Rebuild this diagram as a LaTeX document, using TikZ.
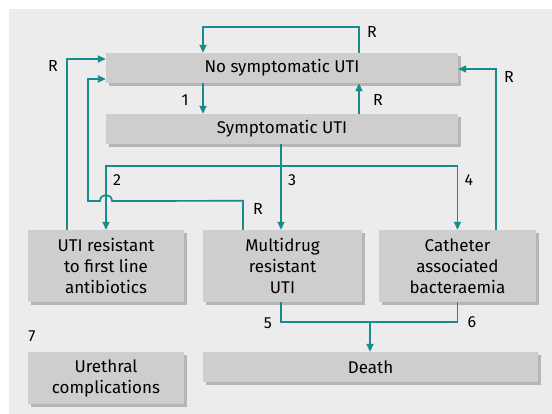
\documentclass[tikz,border=0pt]{standalone}
\usepackage{fontspec}
\setmainfont{Fira Sans}
\usetikzlibrary{arrows.meta,shadows}
\definecolor{teal}{RGB}{24,140,140}
\definecolor{bgc}{RGB}{236,236,236}
\definecolor{boxc}{RGB}{206,206,206}
\definecolor{shadc}{RGB}{182,182,182}
\tikzset{
  box/.style={fill=boxc, inner sep=0pt, align=center, font=\fontsize{17}{21}\selectfont,
    drop shadow={shadow xshift=3pt, shadow yshift=-3pt, fill=shadc, opacity=1}},
  arr/.style={draw=teal, line width=1.7pt, -{Triangle[length=8pt,width=7pt]}},
  ln/.style={draw=teal, line width=1.7pt},
  lab/.style={font=\fontsize{16}{18}\selectfont, inner sep=0pt}
}
\begin{document}
\begin{tikzpicture}[x=1pt,y=-1pt]
\useasboundingbox (0,0) rectangle (552,414);
\fill[white] (0,0) rectangle (552,414);
\fill[bgc] (9,9) rectangle (552,414);
% boxes
\node[box, minimum width=352pt, minimum height=30pt] (nosym) at (282,68) {No symptomatic UTI};
\node[box, minimum width=352pt, minimum height=30pt] (sym) at (282,129) {Symptomatic UTI};
\node[box, minimum width=156pt, minimum height=72pt] (res) at (106,266) {UTI resistant\\to first line\\antibiotics};
\node[box, minimum width=159pt, minimum height=72pt] (multi) at (282.5,266) {Multidrug\\resistant\\UTI};
\node[box, minimum width=157pt, minimum height=72pt] (cath) at (457.5,266) {Catheter\\associated\\bacteraemia};
\node[box, minimum width=156pt, minimum height=52pt] (ureth) at (106,378) {Urethral\\complications};
\node[box, minimum width=335pt, minimum height=30pt] (death) at (370.5,367) {Death};
% x positions
\coordinate (xa) at (203,0);
\coordinate (xb) at (359,0);
\coordinate (xc) at (496,0);
\coordinate (xl) at (67,0);
\coordinate (xm) at (243,0);
\coordinate (x3) at (281,0);
\coordinate (j) at (281,166);
\coordinate (jj) at (370,322);
% connectors
\draw[arr] (nosym.north -| xb) -- ++(0,-26) -| (nosym.north -| xa);
\draw[arr] (nosym.south -| xa) -- (sym.north -| xa);
\draw[arr] (sym.north -| xb) -- (nosym.south -| xb);
\draw[arr] (cath.north -| xc) |- ([yshift=-1pt]nosym.east);
\draw[arr] (res.north -| xl) |- ([yshift=9pt]nosym.west);
\draw[arr] (multi.north -| xm) -- ++(0,-29) -- (112,201) .. controls (112,193) and (100,193) .. (100,201) -- (88,201) |- ([yshift=-11pt]nosym.west);
\draw[arr] (sym.south -| x3) -- (multi.north -| x3);
\draw[arr] (j) -| (res.north);
\draw[arr] (j) -| (cath.north);
\draw[ln] (multi.south -| x3) |- (jj) -| (cath.south);
\draw[arr] (jj) -- (death.north -| jj);
% labels
\node[lab] (r1) at (372,32) {R};
\node[lab] (l1) at (185,100) {1};
\node[lab] (r2) at (378,100) {R};
\node[lab] (r3) at (509,77) {R};
\node[lab] (r4) at (53,66) {R};
\node[lab] (r5) at (258,209) {R};
\node[lab] (l2) at (117,180) {2};
\node[lab] (l3) at (292,180) {3};
\node[lab] (l4) at (469,180) {4};
\node[lab] (l5) at (268,323) {5};
\node[lab] (l6) at (472,322) {6};
\node[lab] (l7) at (32,336) {7};
\end{tikzpicture}
\end{document}
